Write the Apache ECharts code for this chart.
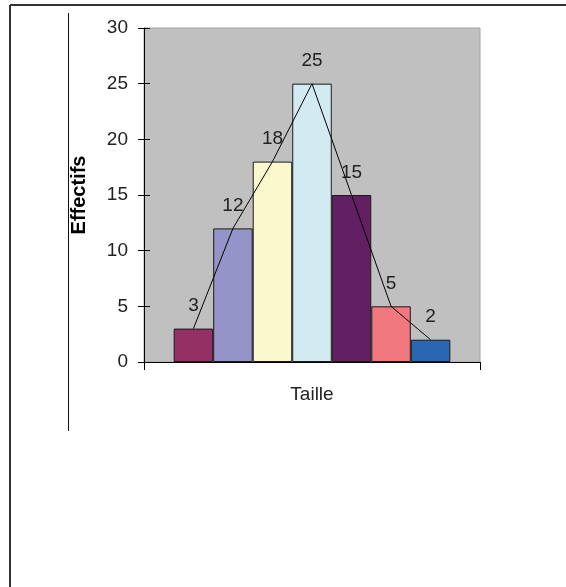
<!DOCTYPE html>
<html>
<head>
<meta charset="utf-8">
<script src="https://cdn.jsdelivr.net/npm/echarts@6/dist/echarts.min.js"></script>
<style>
  html, body { margin: 0; padding: 0; background: #fff; }
  #chart { width: 566px; height: 587px; }
</style>
</head>
<body>
<div id="chart"></div>
<script>
// Size classes (position of each bar along the Taille axis) and their counts
const classes = [1, 2, 3, 4, 5, 6, 7];
const effectifs = [3, 12, 18, 25, 15, 5, 2];
const yTicks = { min: 0, max: 30, step: 5 };
const xTitle = 'Taille';
const yTitle = 'Effectifs';

// One fill per bar (vary colours by point)
const palette = ['#953064', '#9494c8', '#faf8cc', '#d2ebf2', '#622062', '#f27880', '#2a67b0'];

const barData = classes.map((c, i) => [c, effectifs[i]]);
const lineData = classes.map((c, i) => [c, effectifs[i]]);

const font = 'Liberation Sans, Arial, sans-serif';
const chart = echarts.init(document.getElementById('chart'), null, { renderer: 'canvas' });

chart.setOption({
  animation: false,
  backgroundColor: '#ffffff',
  grid: {
    left: 144, right: 86, top: 28, bottom: 225,
    show: true, backgroundColor: '#c0c0c0', borderColor: '#a4a4a4', borderWidth: 1
  },
  xAxis: [
    {
      type: 'category',
      data: [''],
      boundaryGap: true,
      name: xTitle,
      nameLocation: 'middle',
      nameGap: 23,
      nameTextStyle: { fontFamily: font, fontSize: 19, color: '#222' },
      axisLine: { show: true, onZero: false, lineStyle: { color: '#000', width: 1 } },
      axisTick: { show: true, length: 8, lineStyle: { color: '#000' } },
      axisLabel: { show: false },
      splitLine: { show: false }
    },
    {
      type: 'value',
      min: -0.25,
      max: 8.25,
      show: false,
      axisLine: { onZero: false }
    }
  ],
  yAxis: [
    {
      type: 'value',
      position: 'left',
      min: yTicks.min, max: yTicks.max, interval: yTicks.step,
      name: yTitle,
      nameLocation: 'middle',
      nameGap: 55,
      nameRotate: 90,
      nameTextStyle: { fontFamily: font, fontSize: 20, fontWeight: 'bold', color: '#000' },
      axisLine: { show: true, onZero: false, lineStyle: { color: '#000', width: 1 } },
      axisTick: { show: true, length: 6, lineStyle: { color: '#000' } },
      axisLabel: { margin: 16, fontFamily: font, fontSize: 19, color: '#222' },
      splitLine: { show: false }
    },
    {
      type: 'value',
      position: 'left',
      offset: 0,
      min: yTicks.min, max: yTicks.max, interval: yTicks.step,
      axisLine: { show: false, onZero: false },
      axisTick: { show: true, inside: true, length: 6, lineStyle: { color: '#000' } },
      axisLabel: { show: false },
      splitLine: { show: false }
    }
  ],
  series: [
    {
      type: 'bar',
      xAxisIndex: 1,
      yAxisIndex: 0,
      data: barData,
      barWidth: 39.5,
      itemStyle: {
        color: p => palette[p.dataIndex],
        borderColor: '#1a1a1a',
        borderWidth: 1
      },
      label: {
        show: true,
        position: 'top',
        distance: 13,
        formatter: p => String(p.value[1]),
        fontFamily: font,
        fontSize: 19,
        color: '#222'
      },
      z: 2
    },
    {
      type: 'line',
      xAxisIndex: 1,
      yAxisIndex: 0,
      data: lineData,
      symbol: 'none',
      lineStyle: { color: '#000', width: 1 },
      z: 3
    }
  ],
  graphic: [
    { type: 'line', shape: { x1: 10, y1: 5, x2: 566, y2: 5 }, style: { stroke: '#333', lineWidth: 2 } },
    { type: 'line', shape: { x1: 10, y1: 5, x2: 10, y2: 587 }, style: { stroke: '#333', lineWidth: 2 } },
    { type: 'line', shape: { x1: 68.5, y1: 13, x2: 68.5, y2: 431 }, style: { stroke: '#111', lineWidth: 1 } }
  ]
});
</script>
</body>
</html>
